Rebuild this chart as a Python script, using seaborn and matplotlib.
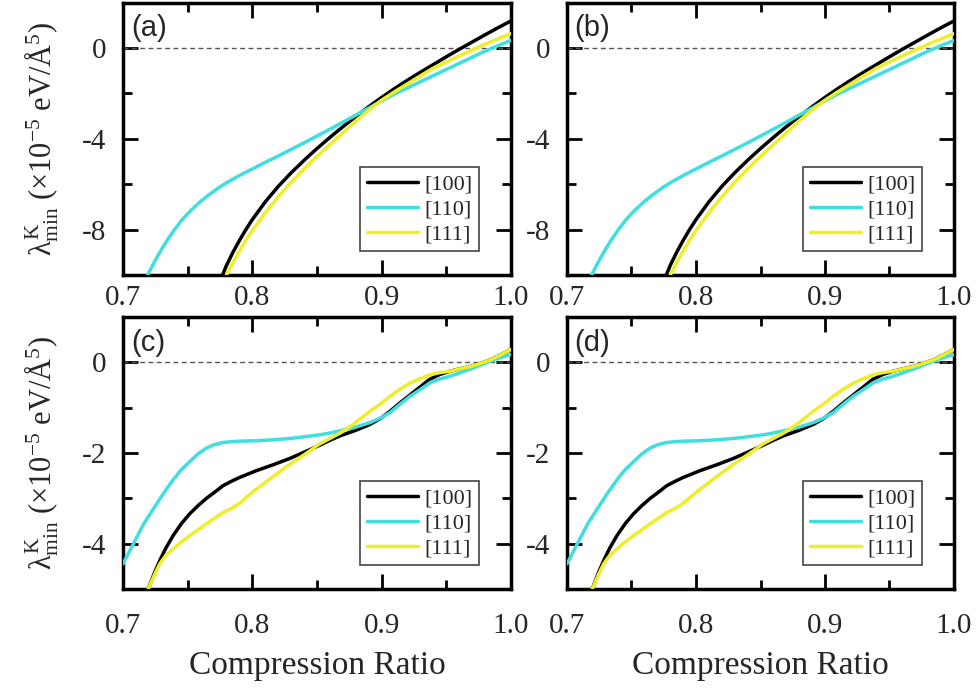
import numpy as np
import pandas as pd
import matplotlib
matplotlib.use("Agg")
import matplotlib.pyplot as plt
import seaborn as sns
from matplotlib.ticker import MultipleLocator, FixedLocator, FormatStrFormatter

# ---------------- data ----------------
series_names = ["[100]", "[110]", "[111]"]
series_colors = ["#000000", "#3fdfe0", "#eeee2a"]

# top row (a), (b)
top_x_100 = [0.777, 0.78, 0.785, 0.79, 0.795, 0.80, 0.81, 0.82, 0.83, 0.84, 0.85, 0.86, 0.87, 0.88,
             0.89, 0.90, 0.91, 0.92, 0.93, 0.94, 0.95, 0.96, 0.97, 0.98, 0.99, 1.00]
top_y_100 = [-10.0, -9.58, -9.0, -8.48, -8.0, -7.56, -6.78, -6.1, -5.5, -4.95, -4.43, -3.94, -3.47, -3.02,
             -2.59, -2.18, -1.79, -1.42, -1.07, -0.73, -0.39, -0.06, 0.26, 0.58, 0.89, 1.19]

top_x_110 = [0.719, 0.725, 0.730, 0.735, 0.740, 0.745, 0.750, 0.755, 0.760, 0.765, 0.770, 0.775, 0.780,
             0.79, 0.80, 0.81, 0.82, 0.83, 0.84, 0.85, 0.86, 0.87, 0.88, 0.89, 0.90, 0.91, 0.92,
             0.93, 0.94, 0.95, 0.96, 0.97, 0.98, 0.99, 1.00]
top_y_110 = [-10.0, -9.35, -8.85, -8.4, -7.99, -7.62, -7.3, -7.02, -6.76, -6.53, -6.32, -6.12, -5.94,
             -5.62, -5.33, -5.04, -4.76, -4.47, -4.18, -3.88, -3.58, -3.27, -2.96, -2.65, -2.33, -2.03, -1.76,
             -1.49, -1.22, -0.95, -0.68, -0.41, -0.14, 0.1, 0.33]

top_x_111 = [0.780, 0.785, 0.79, 0.795, 0.80, 0.81, 0.82, 0.83, 0.84, 0.85, 0.86, 0.87, 0.88, 0.89,
             0.90, 0.91, 0.92, 0.93, 0.94, 0.95, 0.96, 0.97, 0.98, 0.99, 1.00]
top_y_111 = [-10.0, -9.45, -8.94, -8.47, -8.04, -7.26, -6.56, -5.92, -5.33, -4.78, -4.26, -3.74, -3.22, -2.74,
             -2.30, -1.93, -1.58, -1.23, -0.89, -0.62, -0.35, -0.09, 0.16, 0.40, 0.63]

# bottom row (c), (d)
bot_x_100 = [0.7195, 0.724, 0.7284, 0.733, 0.7387, 0.745, 0.7515, 0.758, 0.7644, 0.771, 0.7773, 0.784,
             0.790, 0.803, 0.816, 0.829, 0.841, 0.852, 0.860, 0.868, 0.880, 0.891, 0.899, 0.9065,
             0.914, 0.922, 0.930, 0.937, 0.945, 0.953, 0.960, 0.968, 0.976, 0.984, 0.992, 1.000]
bot_y_100 = [-5.0, -4.66, -4.37, -4.1, -3.82, -3.56, -3.34, -3.16, -3.0, -2.86, -2.72, -2.62,
             -2.54, -2.39, -2.26, -2.12, -1.97, -1.83, -1.72, -1.62, -1.5, -1.37, -1.24, -1.08,
             -0.9, -0.72, -0.54, -0.38, -0.27, -0.20, -0.15, -0.10, -0.03, 0.05, 0.16, 0.28]

bot_x_110 = [0.700, 0.704, 0.708, 0.712, 0.716, 0.721, 0.726, 0.732, 0.739, 0.745, 0.752, 0.758, 0.764,
             0.770, 0.777, 0.784, 0.790, 0.803, 0.816, 0.829, 0.841, 0.852, 0.860, 0.868, 0.880,
             0.891, 0.899, 0.9065, 0.914, 0.922, 0.930, 0.937, 0.945, 0.953, 0.960, 0.968, 0.976,
             0.984, 0.992, 1.000]
bot_y_110 = [-4.44, -4.22, -4.0, -3.78, -3.56, -3.34, -3.12, -2.86, -2.58, -2.37, -2.18, -2.02, -1.90,
             -1.82, -1.77, -1.75, -1.74, -1.73, -1.71, -1.68, -1.64, -1.60, -1.56, -1.51, -1.43,
             -1.33, -1.23, -1.11, -0.93, -0.75, -0.60, -0.46, -0.37, -0.31, -0.24, -0.16, -0.07,
             0.02, 0.10, 0.17]

bot_x_111 = [0.7195, 0.724, 0.7284, 0.733, 0.7387, 0.745, 0.7515, 0.758, 0.7644, 0.771, 0.7773, 0.784,
             0.790, 0.796, 0.803, 0.816, 0.829, 0.841, 0.852, 0.860, 0.868, 0.878, 0.891, 0.899,
             0.9065, 0.914, 0.922, 0.930, 0.937, 0.945, 0.953, 0.960, 0.968, 0.976, 0.984, 0.992, 1.000]
bot_y_111 = [-5.0, -4.7, -4.44, -4.26, -4.11, -3.96, -3.82, -3.69, -3.56, -3.43, -3.31, -3.22,
             -3.11, -2.96, -2.80, -2.52, -2.25, -2.02, -1.80, -1.68, -1.56, -1.37, -1.08, -0.92,
             -0.75, -0.60, -0.46, -0.36, -0.28, -0.23, -0.20, -0.15, -0.10, -0.03, 0.05, 0.16, 0.28]

panel_labels = ["(a)", "(b)", "(c)", "(d)"]
x_ticks = [0.7, 0.8, 0.9, 1.0]
top_yticks = [-8, -4, 0]
bot_yticks = [-4, -2, 0]
x_label = "Compression Ratio"
y_label = r"$\lambda^{K}_{min}$ (×10$^{-5}$ eV/Å$^{5}$)"

# ---------------- style ----------------
sns.set_theme(style="ticks")
plt.rcParams["font.family"] = ["Liberation Serif", "DejaVu Serif"]
plt.rcParams["mathtext.fontset"] = "custom"
plt.rcParams["mathtext.rm"] = "Liberation Serif"
plt.rcParams["mathtext.it"] = "Liberation Serif"
plt.rcParams["mathtext.bf"] = "Liberation Serif:bold"
plt.rcParams["axes.unicode_minus"] = False

fig = plt.figure(figsize=(9.78, 6.90), dpi=100)
W, H = 978.0, 690.0
rects = [
    (123 / W, 1 - 275 / H, 388 / W, 272.5 / H),
    (567 / W, 1 - 275 / H, 387 / W, 272.5 / H),
    (123 / W, 1 - 589.3 / H, 388 / W, 272.6 / H),
    (567 / W, 1 - 589.3 / H, 387 / W, 272.6 / H),
]

top_data = [(top_x_100, top_y_100), (top_x_110, top_y_110), (top_x_111, top_y_111)]
bot_data = [(bot_x_100, bot_y_100), (bot_x_110, bot_y_110), (bot_x_111, bot_y_111)]

for i, rect in enumerate(rects):
    ax = fig.add_axes(rect)
    is_top = i < 2
    data = top_data if is_top else bot_data
    ax.axhline(0, color="#555555", lw=1.0, ls=(0, (3.5, 2.5)), zorder=1)
    for (xs, ys), name, col in zip(data, series_names, series_colors):
        df = pd.DataFrame({"x": xs, "y": ys})
        sns.lineplot(data=df, x="x", y="y", ax=ax, color=col, lw=2.5,
                     label=name, estimator=None, sort=False, zorder=3)
    ax.set_xlim(0.7, 1.0)
    if is_top:
        ax.set_ylim(-10, 2)
        ax.yaxis.set_major_locator(FixedLocator(top_yticks))
        ax.yaxis.set_minor_locator(MultipleLocator(2))
        xpad = 7
    else:
        ax.set_ylim(-5, 1)
        ax.yaxis.set_major_locator(FixedLocator(bot_yticks))
        ax.yaxis.set_minor_locator(MultipleLocator(1))
        xpad = 17
    ax.xaxis.set_major_locator(FixedLocator(x_ticks))
    ax.xaxis.set_minor_locator(MultipleLocator(0.05))
    ax.xaxis.set_major_formatter(FormatStrFormatter("%.1f"))
    ax.yaxis.set_major_formatter(FormatStrFormatter("%d"))
    ax.tick_params(which="both", direction="in", top=True, right=True,
                   labelright=False, labeltop=False, width=2.0, color="black")
    ax.tick_params(which="major", length=11)
    ax.tick_params(which="minor", length=6.5)
    ax.tick_params(axis="x", which="major", labelsize=21, pad=xpad)
    ax.tick_params(axis="y", which="major", labelsize=21, pad=12)
    for sp in ax.spines.values():
        sp.set_linewidth(2.5)
        sp.set_color("black")
        sp.set_visible(True)
    ax.set_ylabel("")
    ax.set_xlabel("")
    if i % 2 == 0:
        ax.set_ylabel(y_label, fontsize=22)
        ax.yaxis.set_label_coords(-0.16, 0.5)
    if not is_top:
        ax.set_xlabel(x_label, fontsize=24, labelpad=8)
    ax.text(0.02, 0.905, panel_labels[i], transform=ax.transAxes, fontsize=21,
            family="Liberation Sans", ha="left", va="center")
    leg = ax.legend(loc="lower right", bbox_to_anchor=(0.918, 0.088), fontsize=16,
                    frameon=True, fancybox=False, edgecolor="#444444", framealpha=1,
                    handlelength=2.3, labelspacing=0.2, borderpad=0.3,
                    handletextpad=0.3, borderaxespad=0)
    leg.get_frame().set_linewidth(1.2)
    for line in leg.get_lines():
        line.set_linewidth(2.5)

fig.savefig("out.png", dpi=100)
